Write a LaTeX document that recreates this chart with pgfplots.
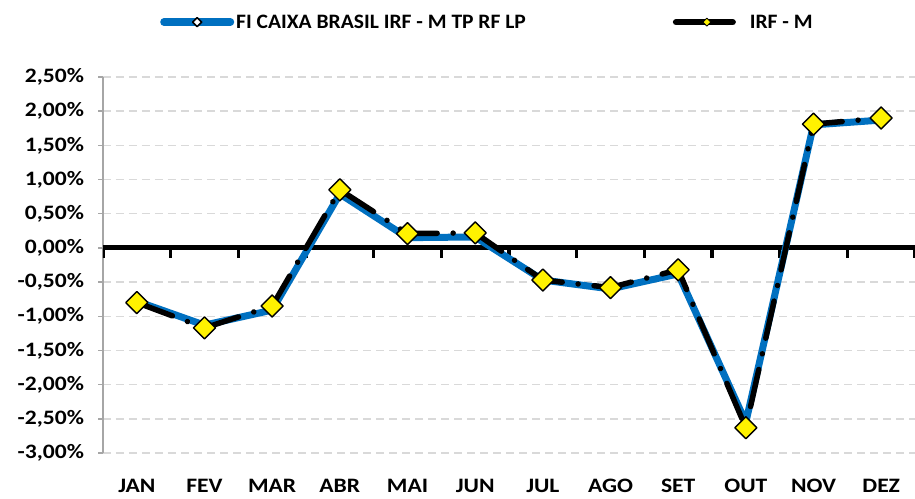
\documentclass[border=0pt]{standalone}
\usepackage{pgfplots}
\pgfplotsset{compat=1.18}
\usepackage{fontspec}
\setmainfont{Carlito}[FakeStretch=1.15, BoldFeatures={FakeStretch=1.15}]
\newfontfamily\legfont{Carlito}[FakeStretch=1.05, BoldFeatures={FakeStretch=1.05}]
\definecolor{fiblue}{RGB}{0,112,192}
\definecolor{gridgray}{RGB}{217,217,217}
\definecolor{axgray}{RGB}{166,166,166}

% monthly returns (%)
\pgfplotstableread{
x  fi     irfm
1  -0.78  -0.80
2  -1.13  -1.17
3  -0.91  -0.85
4   0.79   0.85
5   0.15   0.21
6   0.16   0.22
7  -0.47  -0.47
8  -0.60  -0.58
9  -0.38  -0.32
10 -2.55  -2.63
11  1.80   1.81
12  1.87   1.90
}\datatable

\begin{document}
\begin{tikzpicture}[x=1pt,y=1pt]
\useasboundingbox (-103,-45) rectangle (812,453);
\begin{axis}[
    at={(0,0)}, anchor=south west,
    scale only axis,
    width=812pt, height=376pt,
    xmin=0.5, xmax=12.5,
    ymin=-3, ymax=2.5,
    axis lines*=left,
    x axis line style={draw=none},
    y axis line style={axgray, line width=1.5pt},
    tick align=outside,
    major tick length=5pt,
    xtick={1,2,3,4,5,6,7,8,9,10,11,12},
    xticklabels={JAN,FEV,MAR,ABR,MAI,JUN,JUL,AGO,SET,OUT,NOV,DEZ},
    xtick style={draw=none},
    ytick={-3,-2.5,-2,-1.5,-1,-0.5,0,0.5,1,1.5,2,2.5},
    yticklabels={{-3,00\%},{-2,50\%},{-2,00\%},{-1,50\%},{-1,00\%},{-0,50\%},
                 {0,00\%},{0,50\%},{1,00\%},{1,50\%},{2,00\%},{2,50\%}},
    ytick style={axgray, line width=1.5pt},
    ymajorgrids,
    grid style={gridgray, line width=1.5pt, dash pattern=on 8pt off 5pt},
    tick label style={font=\fontsize{20.5}{23}\selectfont\bfseries},
    yticklabel style={xshift=-10.5pt},
    xticklabel style={inner sep=0pt, yshift=-21pt},
    legend columns=2,
    legend style={at={(axis description cs:0.0702,1.146)}, anchor=west,
        draw=none, fill=none, inner sep=0pt,
        font=\legfont\fontsize{20.5}{23}\selectfont\bfseries,
        /tikz/every even column/.append style={column sep=145pt}},
]
\draw[black, line width=5pt] (axis cs:0.5,0) -- (axis cs:12.5,0);
\pgfplotsinvokeforeach{0.5,1.5,2.5,3.5,4.5,5.5,6.5,7.5,8.5,9.5,10.5,11.5,12.5}{
    \draw[black, line width=3.5pt] (axis cs:#1,0) -- ++(0pt,-10pt);
}
\addplot[fiblue, line width=7pt, line join=round,
    legend image code/.code={
        \draw[fiblue, solid, line width=7.5pt, line cap=round] (3.75pt,0pt) -- (70.25pt,0pt);
        \draw[black, solid, fill=white, line width=1.6pt] (37pt,4.5pt) -- (41.5pt,0pt) -- (37pt,-4.5pt) -- (32.5pt,0pt) -- cycle;
    }] table[x=x, y=fi] {\datatable};
\addlegendentry{FI CAIXA BRASIL IRF - M TP RF LP}
\addplot[black, line width=5.5pt, line cap=round, line join=round,
    dash pattern=on 38pt off 16pt on 0.01pt off 16pt,
    mark=square*, mark size=7.8pt,
    mark options={solid, rotate=45, fill=yellow, draw=black, line width=1.4pt},
    legend image code/.code={
        \draw[black, solid, line width=6.5pt, line cap=round] (3.25pt,0pt) -- (59.75pt,0pt);
        \draw[black, solid, fill=yellow, line width=0.8pt] (34pt,4pt) -- (38pt,0pt) -- (34pt,-4pt) -- (30pt,0pt) -- cycle;
    }] table[x=x, y=irfm] {\datatable};
\addlegendentry{\hspace{12pt}IRF - M}
\end{axis}
\end{tikzpicture}
\end{document}
